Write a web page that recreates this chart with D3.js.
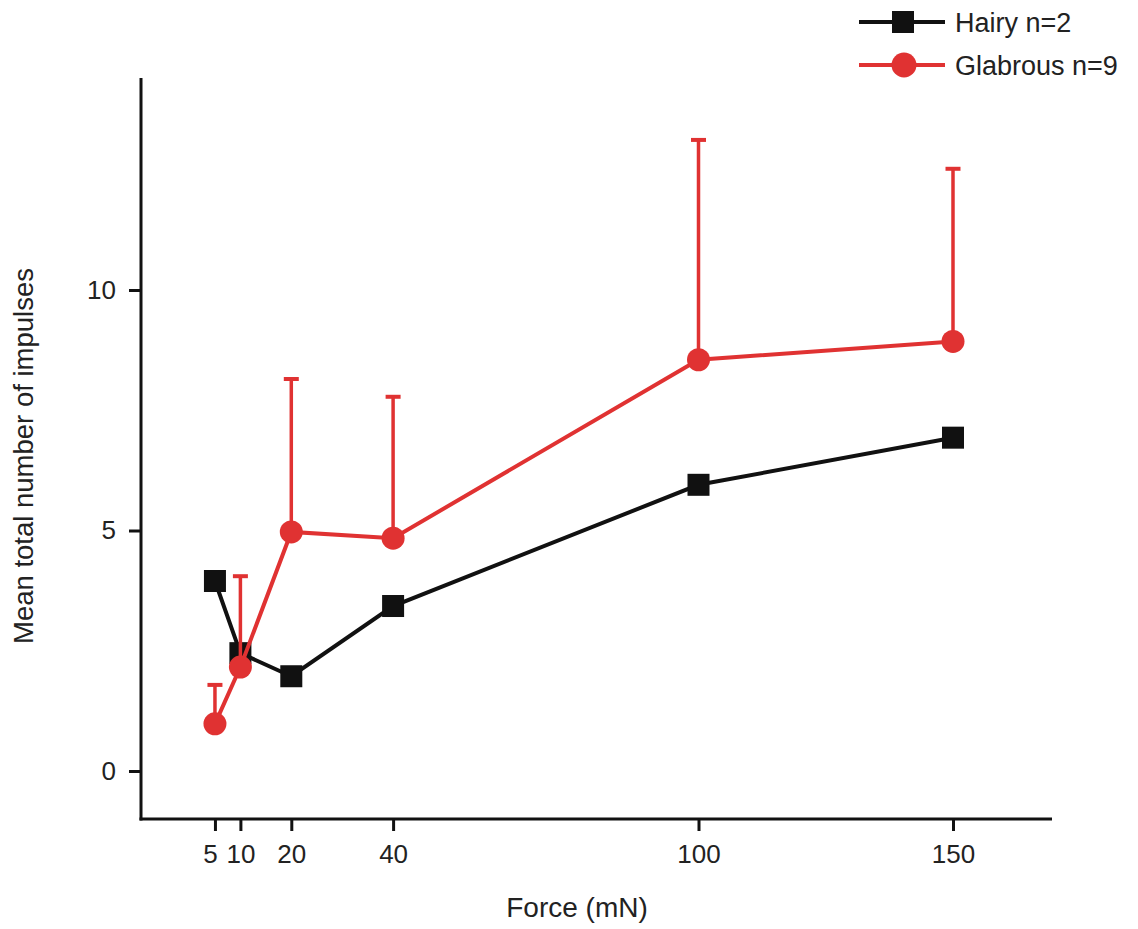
<!DOCTYPE html>
<html>
<head>
<meta charset="utf-8">
<script src="https://cdn.jsdelivr.net/npm/d3@7"></script>
<style>
  html, body { margin: 0; padding: 0; background: #fff; }
  svg { display: block; }
  text { font-family: "Liberation Sans", Arial, sans-serif; fill: #222; }
</style>
</head>
<body>
<svg id="chart" width="1138" height="929"></svg>
<script>
// Force levels (mN)
const forces = [5, 10, 20, 40, 100, 150];
const xTicks = [5, 10, 20, 40, 100, 150];
const yTicks = [0, 5, 10];

// Mean total impulses per force level
const hairyMeans = [3.95, 2.45, 1.97, 3.43, 5.95, 6.93];
const glabrousMeans = [0.98, 2.16, 4.97, 4.84, 8.55, 8.93];
// Upper end of the error bar (mean + SD) for glabrous units
const glabrousUpper = [1.79, 4.05, 8.15, 7.78, 13.12, 12.52];

const seriesNames = ["Hairy n=2", "Glabrous n=9"];
const black = "#111111";
const red = "#e03232";

const svg = d3.select("#chart");

const x = d3.scaleLinear().domain([0, 150]).range([189.5, 953]);
const y = d3.scaleLinear().domain([0, 10]).range([771, 290]);

const axisLeftX = 141;
const axisBottomY = 819;
const yTop = y.invert(78);
const xRight = x.invert(1052);

// Y axis
const yAxis = d3.axisLeft(y).tickValues(yTicks).tickSize(12).tickSizeOuter(0).tickPadding(13);
const gy = svg.append("g").attr("transform", `translate(${axisLeftX},0)`).call(yAxis);
gy.select(".domain").remove();
gy.append("line")
  .attr("x1", 0).attr("x2", 0)
  .attr("y1", y(yTop)).attr("y2", axisBottomY + 1.5)
  .attr("stroke", black).attr("stroke-width", 3);
gy.selectAll(".tick line").attr("stroke", black).attr("stroke-width", 3);
gy.selectAll(".tick text").attr("font-size", 26).style("fill", "#222");

// X axis
const xAxis = d3.axisBottom(x).tickValues(xTicks).tickSize(12).tickSizeOuter(0).tickPadding(14);
const gx = svg.append("g").attr("transform", `translate(0,${axisBottomY})`).call(xAxis);
gx.select(".domain").remove();
gx.append("line")
  .attr("x1", axisLeftX - 1.5).attr("x2", x(xRight))
  .attr("y1", 0).attr("y2", 0)
  .attr("stroke", black).attr("stroke-width", 3);
gx.selectAll(".tick line").attr("stroke", black).attr("stroke-width", 3);
gx.selectAll(".tick text").attr("font-size", 26).style("fill", "#222");
// the first label sits a little left so it clears its crowded neighbour
gx.selectAll(".tick text").filter(d => d === 5).attr("dx", -5);

// Axis titles
svg.append("text")
  .attr("transform", `translate(33,456) rotate(-90)`)
  .attr("text-anchor", "middle")
  .attr("font-size", 27.5)
  .text("Mean total number of impulses");

svg.append("text")
  .attr("x", 577).attr("y", 917)
  .attr("text-anchor", "middle")
  .attr("font-size", 28)
  .text("Force (mN)");

const line = d3.line().x(d => x(d[0])).y(d => y(d[1]));

// Hairy series
const hairy = forces.map((f, i) => [f, hairyMeans[i]]);
svg.append("path").datum(hairy)
  .attr("d", line).attr("fill", "none")
  .attr("stroke", black).attr("stroke-width", 4);
svg.selectAll("rect.hairy").data(hairy).enter().append("rect")
  .attr("class", "hairy")
  .attr("x", d => x(d[0]) - 11).attr("y", d => y(d[1]) - 11)
  .attr("width", 22).attr("height", 22)
  .attr("fill", black);

// Glabrous series with upward error bars
const glabrous = forces.map((f, i) => [f, glabrousMeans[i], glabrousUpper[i]]);
const eb = svg.selectAll("g.err").data(glabrous).enter().append("g").attr("class", "err");
eb.append("line")
  .attr("x1", d => x(d[0])).attr("x2", d => x(d[0]))
  .attr("y1", d => y(d[1])).attr("y2", d => y(d[2]))
  .attr("stroke", red).attr("stroke-width", 3.5);
eb.append("line")
  .attr("x1", d => x(d[0]) - 7.5).attr("x2", d => x(d[0]) + 7.5)
  .attr("y1", d => y(d[2])).attr("y2", d => y(d[2]))
  .attr("stroke", red).attr("stroke-width", 4);

svg.append("path").datum(glabrous)
  .attr("d", line).attr("fill", "none")
  .attr("stroke", red).attr("stroke-width", 4);
svg.selectAll("circle.glab").data(glabrous).enter().append("circle")
  .attr("class", "glab")
  .attr("cx", d => x(d[0])).attr("cy", d => y(d[1]))
  .attr("r", 11.5)
  .attr("fill", red);

// Legend
const legend = svg.append("g");
const legendRows = [
  { name: seriesNames[0], color: black, shape: "square", yy: 22 },
  { name: seriesNames[1], color: red, shape: "circle", yy: 65 }
];
legendRows.forEach(r => {
  legend.append("line")
    .attr("x1", 859).attr("x2", 945)
    .attr("y1", r.yy).attr("y2", r.yy)
    .attr("stroke", r.color).attr("stroke-width", 4);
  if (r.shape === "square") {
    legend.append("rect")
      .attr("x", 903 - 11).attr("y", r.yy - 11)
      .attr("width", 22).attr("height", 22).attr("fill", r.color);
  } else {
    legend.append("circle")
      .attr("cx", 904).attr("cy", r.yy).attr("r", 12.5).attr("fill", r.color);
  }
  legend.append("text")
    .attr("x", 955).attr("y", r.yy + 10)
    .attr("font-size", 27)
    .text(r.name);
});
</script>
</body>
</html>
